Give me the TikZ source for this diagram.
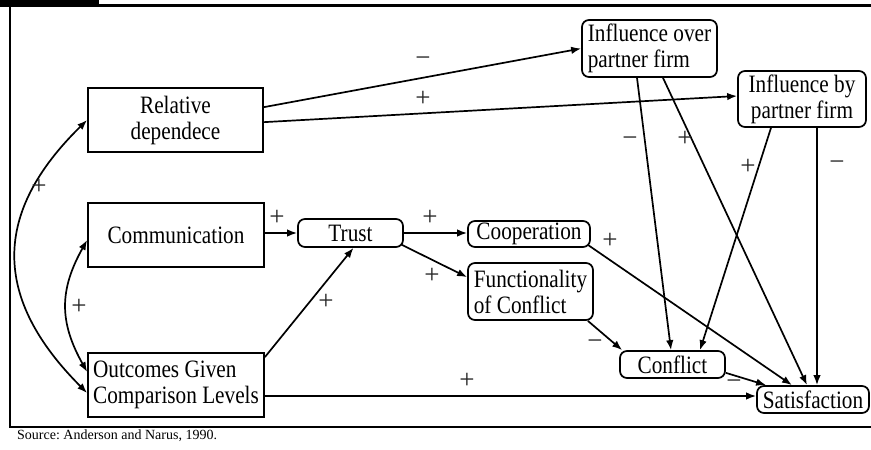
\documentclass[tikz,border=0pt]{standalone}
\usepackage{fontspec}
\setmainfont[FakeStretch=0.85]{Liberation Serif}
\newfontfamily\srcfont{Liberation Serif}
\newfontfamily\labfont{Liberation Serif}
\usetikzlibrary{arrows.meta,calc}
\newcommand\mainsz{\fontsize{25}{26}\selectfont}
\newcommand\labsz{\labfont\fontsize{27}{28}\selectfont}
\newcommand\mymin{\symbol{"2212}}
\tikzset{
  box/.style={draw, line width=1.7pt, inner sep=0pt, font=\mainsz, align=center},
  rbox/.style={box, rounded corners=7pt},
  arr/.style={line width=1.7pt, -{Latex[length=10pt,width=7.5pt]}},
  arrtwo/.style={line width=1.7pt, {Latex[length=10pt,width=7.5pt]}-{Latex[length=10pt,width=7.5pt]}},
  lab/.style={font=\labsz, text=black!85, inner sep=0pt},
}
\begin{document}
\frenchspacing
\begin{tikzpicture}[x=1pt,y=-1pt]
\useasboundingbox (0,0) rectangle (871,450);
% frame
\fill (0,0) rectangle (99,6);
\draw[line width=2.5pt] (0,5.5) -- (871,5.5);
\draw[line width=2pt] (10,5) -- (10,427);
\draw[line width=1.5pt] (9,427) -- (871,427);
\node[anchor=west, font=\srcfont\fontsize{14}{16}\selectfont, inner sep=0pt] (src) at (17,436) {Source: Anderson and Narus, 1990.};
% nodes
\node[box, minimum width=175pt, minimum height=64pt] (RD) at (175.5,120) {Relative\\dependece};
\node[box, minimum width=176pt, minimum height=64pt] (COM) at (176,235) {Communication};
\node[box, minimum width=176pt, minimum height=64pt, align=left] (OG) at (176,385) {Outcomes Given\\Comparison Levels};
\node[rbox, minimum width=105pt, minimum height=28pt] (Trust) at (350.5,233) {Trust};
\node[rbox, minimum width=122pt, minimum height=26pt] (Coop) at (529,234) {Cooperation};
\node[rbox, minimum width=125pt, minimum height=57pt, align=left] (FC) at (530.5,291.5) {Functionality\\of Conflict};
\node[rbox, minimum width=105pt, minimum height=27pt] (Conf) at (672.5,364.5) {Conflict};
\node[rbox, minimum width=112pt, minimum height=27pt] (Sat) at (813,399.5) {Satisfaction};
\node[rbox, minimum width=135pt, minimum height=57pt, align=left] (IO) at (649.5,48.5) {Influence over\\partner firm};
\node[rbox, minimum width=128pt, minimum height=56pt] (IB) at (802,99) {Influence by\\partner firm};
% connectors
\draw[arr] ([yshift=-20pt]RD.north east) -- (IO.west);
\draw[arr] ([yshift=-35pt]RD.north east) -- ([yshift=3pt]IB.west);
\draw[arr] (Trust.west -| COM.east) -- (Trust.west);
\draw[arr] (Trust.east) -- (Trust.east -| Coop.west);
\draw[arr] ([shift={(-2pt,3pt)}]Trust.south east) -- ([yshift=-15pt]FC.north west);
\draw[arr] ([yshift=-5pt]OG.north east) -- ([xshift=3pt]Trust.south);
\coordinate (satin) at ([yshift=3.5pt]Sat.west);
\draw[arr] (satin -| OG.east) -- (satin);
\draw[arr] ([shift={(-3pt,3pt)}]Coop.south east) -- ([xshift=-21pt]Sat.north);
\draw[arr] ([xshift=-6pt]FC.south east) -- ([xshift=3pt]Conf.north west);
\draw[arr] ([yshift=6pt]Conf.south east) -- ([xshift=10pt]Sat.north west);
\draw[arr] ([xshift=-12.5pt]IO.south) -- ([xshift=-1.5pt]Conf.north);
\draw[arr] ([xshift=13.5pt]IO.south) -- ([xshift=-6pt]Sat.north);
\draw[arr] ([xshift=-31pt]IB.south) -- ([xshift=27.5pt]Conf.north);
\draw[arr] ([xshift=15pt]IB.south) -- ([xshift=4pt]Sat.north);
\draw[arrtwo] (RD.west) .. controls +(-95,93) and +(-95,-95) .. ([yshift=-8pt]OG.west);
\draw[arrtwo] ([yshift=-5pt]COM.west) .. controls +(-28,50) and +(-28,-50) .. ([yshift=13pt]OG.west);
% labels
\node[lab] (l1) at (423,62) {\mymin};
\node[lab] (l2) at (423,99) {+};
\node[lab] (l3) at (277,218) {+};
\node[lab] (l4) at (430,218) {+};
\node[lab] (l5) at (432,276) {+};
\node[lab] (l6) at (326,302) {+};
\node[lab] (l7) at (467,381) {+};
\node[lab] (l8) at (610,241) {+};
\node[lab] (l9) at (595,345) {\mymin};
\node[lab] (l10) at (734,385) {\mymin};
\node[lab] (l11) at (630,142) {\mymin};
\node[lab] (l12) at (685,139) {+};
\node[lab] (l13) at (748,167) {+};
\node[lab] (l14) at (837,166) {\mymin};
\node[lab] (l15) at (39,187) {+};
\node[lab] (l16) at (79,307) {+};
\end{tikzpicture}
\end{document}
